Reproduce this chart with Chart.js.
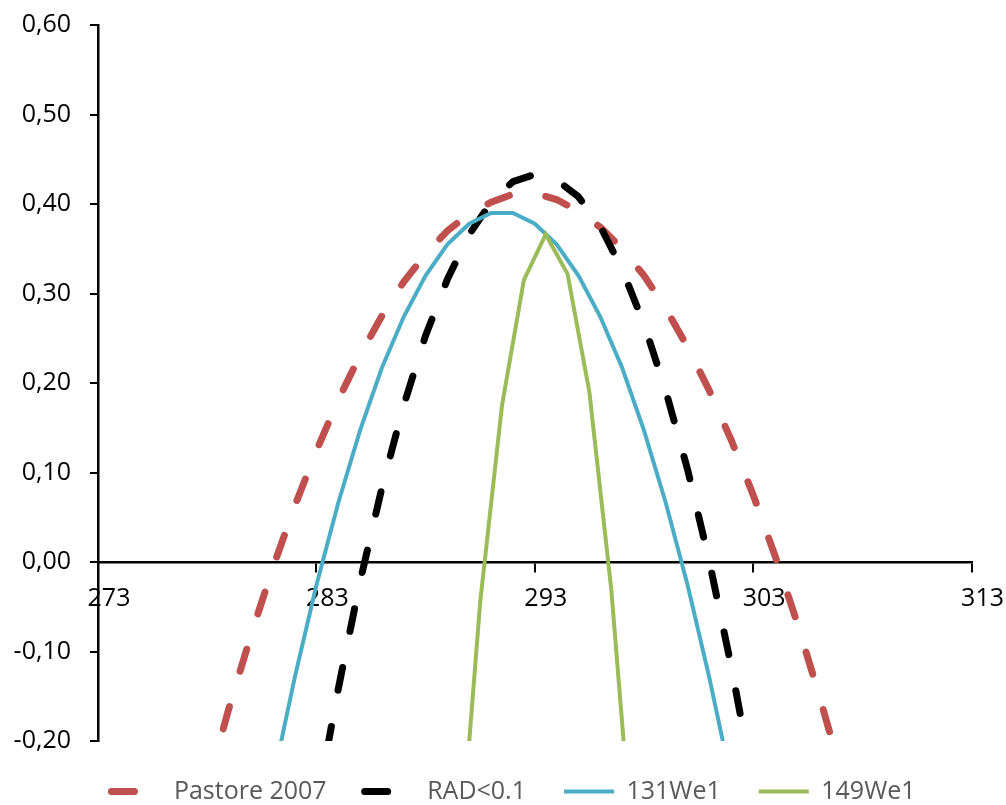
<!DOCTYPE html>
<html>
<head>
<meta charset="utf-8">
<script src="https://cdn.jsdelivr.net/npm/chart.js@4/dist/chart.umd.min.js"></script>
<style>
html,body{margin:0;padding:0;background:#ffffff;}
#wrap{width:1006px;height:805px;}
</style>
</head>
<body>
<div id="wrap"><canvas id="c" width="1006" height="805"></canvas></div>
<script>
// ---- data ----
const seriesNames = ['Pastore 2007', 'RAD<0.1', '131We1', '149We1'];

const pastoreT = [278,279,280,281,282,283,284,285,286,287,288,289,290,291,292,293,294,295,296,297,298,299,300,301,302,303,304,305,306,307];
const pastoreV = [-0.251,-0.163,-0.082,-0.007,0.062,0.124,0.181,0.231,0.275,0.313,0.344,0.370,0.389,0.402,0.411,0.412,0.405,0.392,0.374,0.350,0.320,0.283,0.240,0.191,0.136,0.075,0.007,-0.067,-0.147,-0.233];

const radT = [283,284,285,286,287,288,289,290,291,292,293,294,295,296,297,298,299,300,301,302,303];
const radV = [-0.275,-0.142,-0.022,0.083,0.175,0.253,0.316,0.366,0.402,0.425,0.433,0.427,0.408,0.375,0.327,0.266,0.191,0.103,0.000,-0.117,-0.247];

const we131T = [281,282,283,284,285,286,287,288,289,290,291,292,293,294,295,296,297,298,299,300,301,302];
const we131V = [-0.245,-0.130,-0.026,0.066,0.147,0.217,0.274,0.320,0.355,0.378,0.390,0.390,0.378,0.355,0.320,0.274,0.217,0.147,0.066,-0.026,-0.130,-0.245];

const we149T = [289.5,290.5,291.5,292.5,293.5,294.5,295.5,296.5,297.5];
const we149V = [-0.355,-0.045,0.175,0.315,0.366,0.322,0.190,-0.030,-0.330];

const xTicks = [273, 283, 293, 303, 313];
const yTicks = [-0.2, -0.1, 0, 0.1, 0.2, 0.3, 0.4, 0.5, 0.6];

const seriesColors = ['#C0504D', '#000000', '#4BACC6', '#9BBB59'];

// ---- chart ----
const toPts = (T, V) => T.map((t, i) => ({x: t, y: V[i]}));
const FONT = 'Open Sans';
Chart.defaults.font.family = FONT;

const common = {showLine: true, pointRadius: 0, pointHoverRadius: 0, tension: 0, clip: 0, fill: false};

// shift the (full-width) legend row so it is centred like the original
const legendShift = {
  id: 'legendShift',
  afterLayout(chart) {
    const l = chart.legend;
    if (l) { l.left += 27; l.right += 27; }
  }
};

new Chart(document.getElementById('c'), {
  type: 'scatter',
  plugins: [legendShift],
  data: {
    datasets: [
      Object.assign({label: seriesNames[0], data: toPts(pastoreT, pastoreV), borderColor: seriesColors[0], backgroundColor: seriesColors[0], borderWidth: 7, borderDash: [23, 37], borderCapStyle: 'round', order: 4}, common),
      Object.assign({label: seriesNames[1], data: toPts(radT, radV), borderColor: seriesColors[1], backgroundColor: seriesColors[1], borderWidth: 7, borderDash: [23, 37], borderCapStyle: 'round', order: 3}, common),
      Object.assign({label: seriesNames[2], data: toPts(we131T, we131V), borderColor: seriesColors[2], backgroundColor: seriesColors[2], borderWidth: 4, borderCapStyle: 'butt', order: 2}, common),
      Object.assign({label: seriesNames[3], data: toPts(we149T, we149V), borderColor: seriesColors[3], backgroundColor: seriesColors[3], borderWidth: 4, borderCapStyle: 'butt', order: 1}, common)
    ]
  },
  options: {
    responsive: false,
    animation: false,
    events: [],
    layout: {padding: {left: 0, right: 33, top: 25, bottom: -9}},
    plugins: {
      tooltip: {enabled: false},
      legend: {
        position: 'bottom',
        labels: {
          usePointStyle: true,
          pointStyleWidth: 50,
          padding: 38,
          color: '#595959',
          font: {family: FONT, size: 25},
          generateLabels: (chart) => chart.data.datasets.map((ds, i) => ({
            text: ds.label,
            fillStyle: ds.borderColor,
            strokeStyle: ds.borderColor,
            lineWidth: ds.borderWidth,
            lineDash: ds.borderDash || [],
            lineCap: ds.borderCapStyle,
            pointStyle: 'line',
            fontColor: '#595959',
            hidden: false,
            datasetIndex: i
          }))
        }
      }
    },
    scales: {
      x: {
        type: 'linear',
        position: {y: 0},
        min: 273,
        max: 313,
        afterBuildTicks: (s) => { s.ticks = xTicks.map(v => ({value: v})); },
        grid: {drawOnChartArea: false, drawTicks: true, tickLength: 9, color: '#000', lineWidth: 2},
        border: {display: true, color: '#000', width: 2.5},
        ticks: {
          labelOffset: 11, padding: 13, color: '#000', autoSkip: false, maxRotation: 0,
          font: {family: FONT, size: 25},
          callback: (v) => String(v)
        }
      },
      y: {
        type: 'linear',
        position: 'left',
        min: -0.2,
        max: 0.6,
        afterBuildTicks: (s) => { s.ticks = yTicks.map(v => ({value: v})); },
        afterFit: (s) => { s.width = 98; s.paddingTop = 0; s.paddingBottom = 0; },
        grid: {drawOnChartArea: false, drawTicks: true, tickLength: 8, color: '#000', lineWidth: 2},
        border: {display: true, color: '#000', width: 2.5},
        ticks: {
          padding: 19, color: '#000',
          font: {family: FONT, size: 25},
          callback: (v) => Number(v).toFixed(2).replace('.', ',')
        }
      }
    }
  }
});
</script>
</body>
</html>
